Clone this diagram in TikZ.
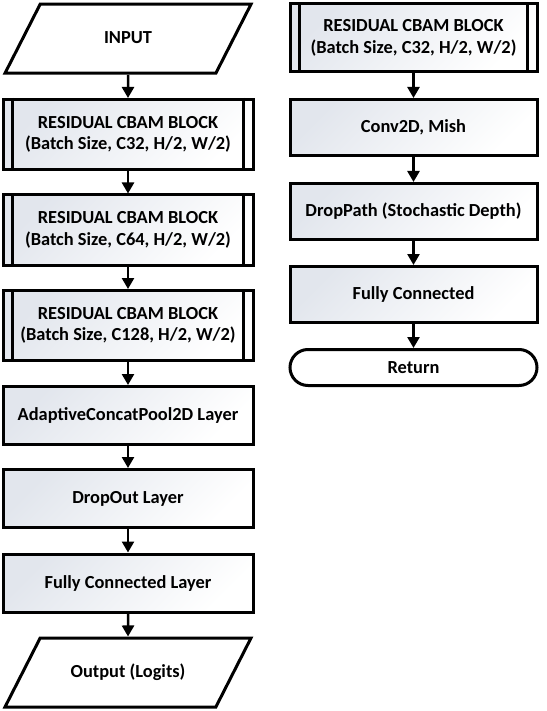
\documentclass[tikz,border=0pt]{standalone}
\usepackage{fontspec}
\setmainfont{Carlito}
\usetikzlibrary{arrows.meta,shapes.geometric,shapes.misc}
\definecolor{boxshade}{RGB}{226,230,237}
\tikzset{layer/.style={rectangle, draw, line width=3pt, inner sep=+0pt, top color=boxshade, bottom color=white, shading angle=45, align=center}}
\tikzset{io/.style={trapezium, trapezium left angle=63, trapezium right angle=117, trapezium stretches body=true, draw, line width=3pt, fill=white, inner xsep=+0pt, inner ysep=26pt, text height=13pt, text depth=4pt, minimum width=246pt}}
\tikzset{terminal/.style={rounded rectangle, draw, line width=3pt, fill=white, inner sep=+0pt, minimum width=247pt, minimum height=36pt}}
\tikzset{flow/.style={-{Triangle[width=12pt,length=11pt]}, line width=2.5pt}}
\tikzset{bar/.style={line width=3pt}}

\begin{document}
\begin{tikzpicture}[x=1pt, y=-1pt, font=\fontsize{18.4}{21.5}\selectfont\bfseries]
    \useasboundingbox (0,0) rectangle (546,711);

    \node[io] (input) at (128,38.75) {INPUT};

    \foreach \i/\c in {1/32,2/64,3/128} {
            \pgfmathsetmacro{\y}{134.5+95.5*(\i-1)}
            \node[layer, minimum width=250pt, minimum height=70pt] (res\i) at (128,\y) {
                RESIDUAL CBAM BLOCK\\(Batch Size, C\c, H/2, W/2)};
            \draw[bar] ([xshift=11pt]res\i.north west) -- ([xshift=11pt]res\i.south west);
            \draw[bar] ([xshift=-11pt]res\i.north east) -- ([xshift=-11pt]res\i.south east);
        }

    \node[layer, minimum width=250pt, minimum height=58pt] (pool) at (128,415.5) {AdaptiveConcatPool2D Layer};
    \node[layer, minimum width=250pt, minimum height=58pt] (drop) at (128,498.5) {DropOut Layer};
    \node[layer, minimum width=250pt, minimum height=58pt] (fc) at (128,583) {Fully Connected Layer};
    \node[io] (output) at (128,672.5) {Output (Logits)};

    \node[layer, minimum width=247pt, minimum height=68pt] (rres) at (413.5,38) {
        RESIDUAL CBAM BLOCK\\(Batch Size, C32, H/2, W/2)};
    \draw[bar] ([xshift=11pt]rres.north west) -- ([xshift=11pt]rres.south west);
    \draw[bar] ([xshift=-11pt]rres.north east) -- ([xshift=-11pt]rres.south east);

    \node[layer, minimum width=247pt, minimum height=56pt] (conv) at (413.5,127.5) {Conv2D, Mish};
    \node[layer, minimum width=247pt, minimum height=56pt] (dpath) at (413.5,211.5) {DropPath (Stochastic Depth)};
    \node[layer, minimum width=247pt, minimum height=56pt] (rfc) at (413.5,294.5) {Fully Connected};
    \node[terminal] (ret) at (413.5,367.5) {Return};

    \draw[flow] (input) -- (res1);
    \foreach \i/\j in {1/2,2/3} {
            \draw[flow] (res\i) -- (res\j);
        }
    \draw[flow] (res3) -- (pool);
    \draw[flow] (pool) -- (drop);
    \draw[flow] (drop) -- (fc);
    \draw[flow] (fc) -- (output);

    \draw[flow] (rres) -- (conv);
    \draw[flow] (conv) -- (dpath);
    \draw[flow] (dpath) -- (rfc);
    \draw[flow] (rfc) -- (ret);

\end{tikzpicture}
\end{document}
